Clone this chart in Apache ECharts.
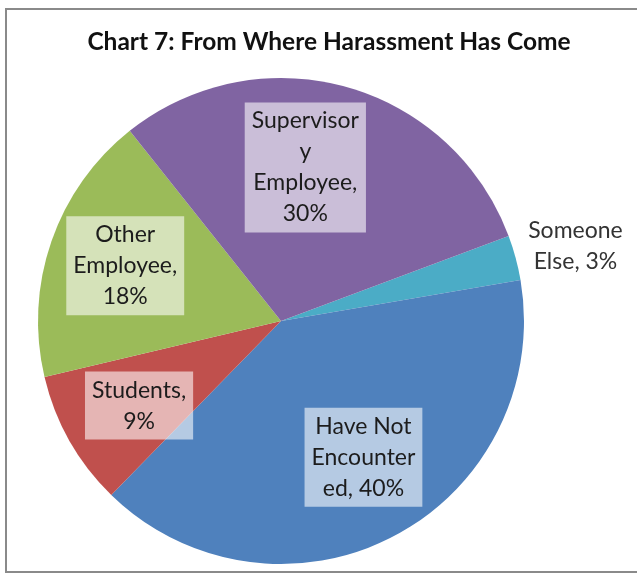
<!DOCTYPE html>
<html>
<head>
<meta charset="utf-8">
<title>Chart 7: From Where Harassment Has Come</title>
<script src="https://cdn.jsdelivr.net/npm/echarts@6/dist/echarts.min.js"></script>
<style>
  html, body { margin: 0; padding: 0; background: #ffffff; }
  #chart { width: 637px; height: 575px; }
</style>
</head>
<body>
<div id="chart"></div>
<script>
// Sources of harassment, share of respondents (%)
const categories = ['Someone Else', 'Have Not Encountered', 'Students', 'Other Employee', 'Supervisory Employee'];
const shares = [3, 40, 9, 18, 30];
// How each category name wraps inside its label
const wrappedNames = ['Someone\nElse', 'Have Not\nEncounter\ned', 'Students', 'Other\nEmployee', 'Supervisor\ny\nEmployee'];
const valueBreaks = [' ', ' ', '\n', '\n', '\n'];
const sliceColors = ['#4bacc6', '#4f81bd', '#c0504d', '#9bbb59', '#8064a2'];

const CX = 281, CY = 321, R = 243, START = 20.5;
// label placement: [radius fraction, angle shift in degrees from the slice middle]
const labelPlace = [[1.25, -0.9], [0.655, 3.5], [0.68, 1.3], [0.68, -0.4], [0.64, 6.5]];

const total = shares.reduce((a, b) => a + b, 0);
const midAngles = [];
let acc = 0;
shares.forEach(v => {
  midAngles.push(START - (acc + v / 2) / total * 360);
  acc += v;
});

const chart = echarts.init(document.getElementById('chart'), null, { renderer: 'canvas' });
const FONT = 'Lato, "Open Sans", sans-serif';

chart.setOption({
  animation: false,
  backgroundColor: '#ffffff',
  title: {
    text: 'Chart 7: From Where Harassment Has Come',
    left: 324,
    top: 25,
    textAlign: 'center',
    textStyle: { fontFamily: FONT, fontWeight: 'bold', fontSize: 24.5, color: '#111111' }
  },
  graphic: [{
    type: 'rect',
    shape: { x: 6, y: 9, width: 660, height: 563 },
    style: { fill: 'none', stroke: '#8a8a8a', lineWidth: 2 },
    silent: true,
    z: 10
  }],
  series: [{
    type: 'pie',
    center: [CX, CY],
    radius: R,
    startAngle: START,
    clockwise: true,
    avoidLabelOverlap: false,
    itemStyle: { borderWidth: 0 },
    labelLine: { show: false },
    emphasis: { disabled: true },
    label: {
      show: true,
      position: 'inside',
      fontFamily: FONT,
      fontSize: 23,
      lineHeight: 31,
      color: '#1c1c1c',
      align: 'center',
      backgroundColor: 'rgba(255,255,255,0.58)',
      padding: [3, 7, 3, 7],
      formatter: p => wrappedNames[p.dataIndex] + ',' + valueBreaks[p.dataIndex] + p.value + '%'
    },
    labelLayout: p => {
      const i = p.dataIndex;
      const a = (midAngles[i] + labelPlace[i][1]) * Math.PI / 180;
      const r = R * labelPlace[i][0];
      return {
        x: CX + r * Math.cos(a),
        y: CY - r * Math.sin(a),
        align: 'center',
        verticalAlign: 'middle'
      };
    },
    data: categories.map((name, i) => {
      const item = { name: name, value: shares[i], itemStyle: { color: sliceColors[i] } };
      if (i === 0) {
        item.label = { backgroundColor: 'transparent', color: '#333333' };
      }
      return item;
    })
  }]
});
</script>
</body>
</html>
